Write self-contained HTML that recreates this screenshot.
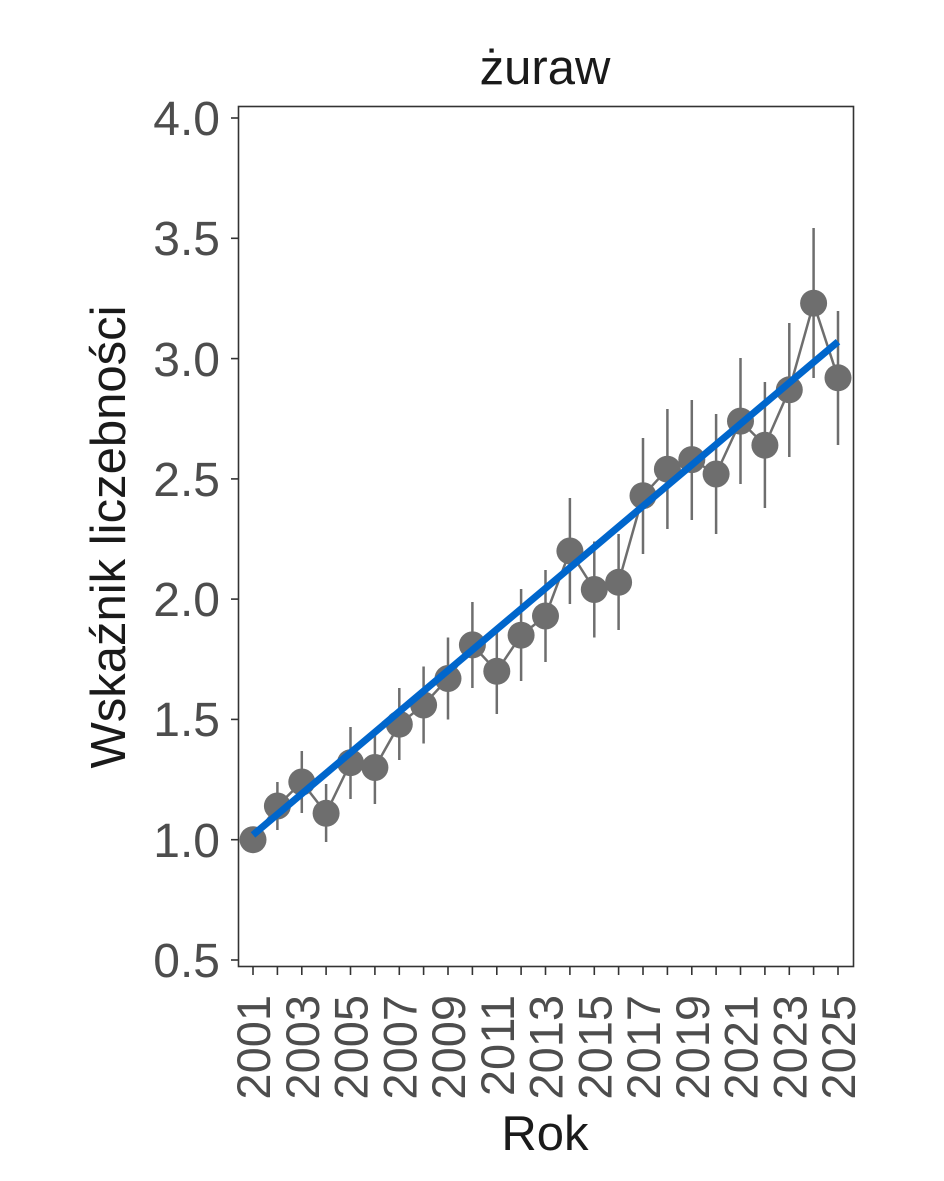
<!DOCTYPE html>
<html><head><meta charset="utf-8"><style>body{margin:0;background:#fff}svg{display:block}</style></head>
<body>
<svg width="944" height="1181" viewBox="0 0 944 1181" xmlns="http://www.w3.org/2000/svg" font-family="Liberation Sans, Arial, sans-serif">
<rect width="944" height="1181" fill="#fff"/>
<text x="545" y="84" font-size="49" text-anchor="middle" fill="#1a1a1a">żuraw</text>
<rect x="238.5" y="106.5" width="615" height="860" fill="none" stroke="#333" stroke-width="1.6"/>
<g stroke="#333" stroke-width="1.6">
<line x1="231" x2="238" y1="960" y2="960"/><line x1="231" x2="238" y1="839.7" y2="839.7"/><line x1="231" x2="238" y1="719.4" y2="719.4"/><line x1="231" x2="238" y1="599.1" y2="599.1"/><line x1="231" x2="238" y1="478.9" y2="478.9"/><line x1="231" x2="238" y1="358.6" y2="358.6"/><line x1="231" x2="238" y1="238.3" y2="238.3"/><line x1="231" x2="238" y1="118" y2="118"/>
<line x1="253" x2="253" y1="967" y2="975"/><line x1="277.4" x2="277.4" y1="967" y2="975"/><line x1="301.8" x2="301.8" y1="967" y2="975"/><line x1="326.1" x2="326.1" y1="967" y2="975"/><line x1="350.5" x2="350.5" y1="967" y2="975"/><line x1="374.9" x2="374.9" y1="967" y2="975"/><line x1="399.3" x2="399.3" y1="967" y2="975"/><line x1="423.6" x2="423.6" y1="967" y2="975"/><line x1="448" x2="448" y1="967" y2="975"/><line x1="472.4" x2="472.4" y1="967" y2="975"/><line x1="496.8" x2="496.8" y1="967" y2="975"/><line x1="521.1" x2="521.1" y1="967" y2="975"/><line x1="545.5" x2="545.5" y1="967" y2="975"/><line x1="569.9" x2="569.9" y1="967" y2="975"/><line x1="594.3" x2="594.3" y1="967" y2="975"/><line x1="618.6" x2="618.6" y1="967" y2="975"/><line x1="643" x2="643" y1="967" y2="975"/><line x1="667.4" x2="667.4" y1="967" y2="975"/><line x1="691.8" x2="691.8" y1="967" y2="975"/><line x1="716.1" x2="716.1" y1="967" y2="975"/><line x1="740.5" x2="740.5" y1="967" y2="975"/><line x1="764.9" x2="764.9" y1="967" y2="975"/><line x1="789.3" x2="789.3" y1="967" y2="975"/><line x1="813.6" x2="813.6" y1="967" y2="975"/><line x1="838" x2="838" y1="967" y2="975"/>
</g>
<g font-size="48" fill="#4d4d4d" text-anchor="end">
<text x="220" y="977">0.5</text><text x="220" y="857">1.0</text><text x="220" y="736">1.5</text><text x="220" y="616">2.0</text><text x="220" y="496">2.5</text><text x="220" y="376">3.0</text><text x="220" y="255">3.5</text><text x="220" y="135">4.0</text>
</g>
<g font-size="47" fill="#4d4d4d" text-anchor="end">
<text transform="translate(270,995) rotate(-90)">2001</text><text transform="translate(318.8,995) rotate(-90)">2003</text><text transform="translate(367.5,995) rotate(-90)">2005</text><text transform="translate(416.3,995) rotate(-90)">2007</text><text transform="translate(465,995) rotate(-90)">2009</text><text transform="translate(513.8,995) rotate(-90)">2011</text><text transform="translate(562.5,995) rotate(-90)">2013</text><text transform="translate(611.3,995) rotate(-90)">2015</text><text transform="translate(660,995) rotate(-90)">2017</text><text transform="translate(708.8,995) rotate(-90)">2019</text><text transform="translate(757.5,995) rotate(-90)">2021</text><text transform="translate(806.3,995) rotate(-90)">2023</text><text transform="translate(855,995) rotate(-90)">2025</text>
</g>
<g stroke="#6e6e6e" stroke-width="2.5">
<line x1="277.4" x2="277.4" y1="782" y2="830"/>
<line x1="301.8" x2="301.8" y1="751" y2="813"/>
<line x1="326.1" x2="326.1" y1="784" y2="842"/>
<line x1="350.5" x2="350.5" y1="727" y2="799"/>
<line x1="374.9" x2="374.9" y1="732" y2="804"/>
<line x1="399.3" x2="399.3" y1="688" y2="760"/>
<line x1="423.6" x2="423.6" y1="666.5" y2="743.5"/>
<line x1="448" x2="448" y1="637.5" y2="719.5"/>
<line x1="472.4" x2="472.4" y1="602" y2="688"/>
<line x1="496.8" x2="496.8" y1="628" y2="714"/>
<line x1="521.1" x2="521.1" y1="589" y2="681"/>
<line x1="545.5" x2="545.5" y1="570" y2="662"/>
<line x1="569.9" x2="569.9" y1="498" y2="604"/>
<line x1="594.3" x2="594.3" y1="541.5" y2="637.5"/>
<line x1="618.6" x2="618.6" y1="534" y2="630"/>
<line x1="643" x2="643" y1="438" y2="554"/>
<line x1="667.4" x2="667.4" y1="409" y2="529"/>
<line x1="691.8" x2="691.8" y1="400" y2="520"/>
<line x1="716.1" x2="716.1" y1="414" y2="534"/>
<line x1="740.5" x2="740.5" y1="358" y2="484"/>
<line x1="764.9" x2="764.9" y1="382" y2="508"/>
<line x1="789.3" x2="789.3" y1="323" y2="457"/>
<line x1="813.6" x2="813.6" y1="228" y2="378"/>
<line x1="838" x2="838" y1="311" y2="445"/>
</g>
<polyline fill="none" stroke="#6e6e6e" stroke-width="2.5" points="253,839.7 277.4,806 301.8,782 326.1,813.3 350.5,762.7 374.9,767.5 399.3,724.2 423.6,705 448,678.5 472.4,644.9 496.8,671.3 521.1,635.2 545.5,616 569.9,551 594.3,589.5 618.6,582.3 643,495.7 667.4,469.2 691.8,459.6 716.1,474 740.5,421.1 764.9,445.2 789.3,389.8 813.6,303.2 838,377.8"/>
<g fill="#6e6e6e">
<circle cx="253" cy="839.7" r="13.5"/><circle cx="277.4" cy="806" r="13.5"/><circle cx="301.8" cy="782" r="13.5"/><circle cx="326.1" cy="813.3" r="13.5"/><circle cx="350.5" cy="762.7" r="13.5"/><circle cx="374.9" cy="767.5" r="13.5"/><circle cx="399.3" cy="724.2" r="13.5"/><circle cx="423.6" cy="705" r="13.5"/><circle cx="448" cy="678.5" r="13.5"/><circle cx="472.4" cy="644.9" r="13.5"/><circle cx="496.8" cy="671.3" r="13.5"/><circle cx="521.1" cy="635.2" r="13.5"/><circle cx="545.5" cy="616" r="13.5"/><circle cx="569.9" cy="551" r="13.5"/><circle cx="594.3" cy="589.5" r="13.5"/><circle cx="618.6" cy="582.3" r="13.5"/><circle cx="643" cy="495.7" r="13.5"/><circle cx="667.4" cy="469.2" r="13.5"/><circle cx="691.8" cy="459.6" r="13.5"/><circle cx="716.1" cy="474" r="13.5"/><circle cx="740.5" cy="421.1" r="13.5"/><circle cx="764.9" cy="445.2" r="13.5"/><circle cx="789.3" cy="389.8" r="13.5"/><circle cx="813.6" cy="303.2" r="13.5"/><circle cx="838" cy="377.8" r="13.5"/>
</g>
<line x1="253" y1="834.9" x2="838" y2="341.7" stroke="#0066cc" stroke-width="7"/>
<text x="545" y="1150" font-size="49" text-anchor="middle" fill="#1a1a1a">Rok</text>
<text transform="translate(125,537) rotate(-90)" font-size="49" text-anchor="middle" fill="#1a1a1a">Wskaźnik liczebności</text>
</svg>
</body></html>
